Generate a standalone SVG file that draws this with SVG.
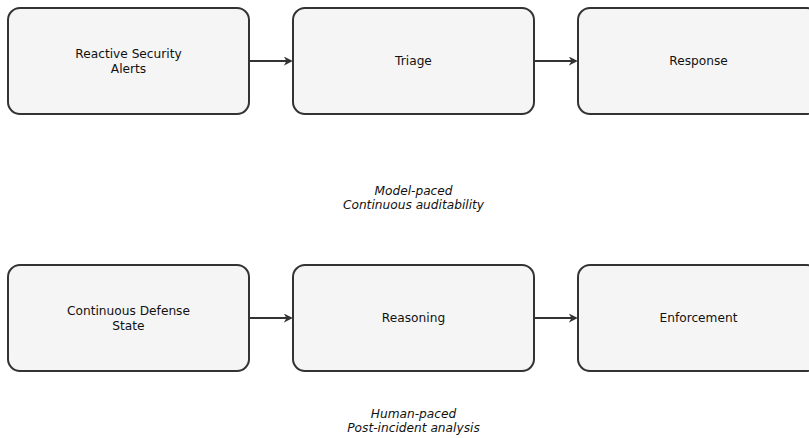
<svg xmlns="http://www.w3.org/2000/svg" width="809" height="438" viewBox="0 0 809 438">
<style>
.box{fill:#f5f5f5;stroke:#333;stroke-width:2}
.t{font-family:"DejaVu Sans",sans-serif;font-size:12.2px;fill:#111;text-anchor:middle}
.i{font-family:"DejaVu Sans",sans-serif;font-size:12.2px;font-style:italic;fill:#111;text-anchor:middle}
.c{stroke:#333;stroke-width:2;fill:none}
</style>
<defs>
<marker id="ah" viewBox="0 0 10 10" refX="8" refY="5" markerWidth="4.5" markerHeight="4.5" orient="auto" markerUnits="strokeWidth">
<path d="M0,0 L10,5 L0,10 L3,5 z" fill="#333"/>
</marker>
</defs>
<rect width="809" height="438" fill="#fff"/>
<g id="n1"><rect class="box" x="8" y="8" width="241" height="106" rx="12"/><text class="t" x="128.5" y="58">Reactive Security</text><text class="t" x="128.5" y="72.5">Alerts</text></g>
<g id="n2"><rect class="box" x="293" y="8" width="241" height="106" rx="12"/><text class="t" x="413.5" y="65">Triage</text></g>
<g id="n3"><rect class="box" x="578" y="8" width="241" height="106" rx="12"/><text class="t" x="698.5" y="65">Response</text></g>
<g id="n4"><rect class="box" x="8" y="265" width="241" height="106" rx="12"/><text class="t" x="128.5" y="315">Continuous Defense</text><text class="t" x="128.5" y="329.5">State</text></g>
<g id="n5"><rect class="box" x="293" y="265" width="241" height="106" rx="12"/><text class="t" x="413.5" y="322">Reasoning</text></g>
<g id="n6"><rect class="box" x="578" y="265" width="241" height="106" rx="12"/><text class="t" x="698.5" y="322">Enforcement</text></g>
<g id="connectors">
<line class="c" x1="249" y1="61" x2="291" y2="61" marker-end="url(#ah)"/>
<line class="c" x1="534" y1="61" x2="576" y2="61" marker-end="url(#ah)"/>
<line class="c" x1="249" y1="318" x2="291" y2="318" marker-end="url(#ah)"/>
<line class="c" x1="534" y1="318" x2="576" y2="318" marker-end="url(#ah)"/>
</g>
<text class="i" x="413.5" y="195">Model-paced</text>
<text class="i" x="413.5" y="209">Continuous auditability</text>
<text class="i" x="413.5" y="418">Human-paced</text>
<text class="i" x="413.5" y="432">Post-incident analysis</text>
</svg>
